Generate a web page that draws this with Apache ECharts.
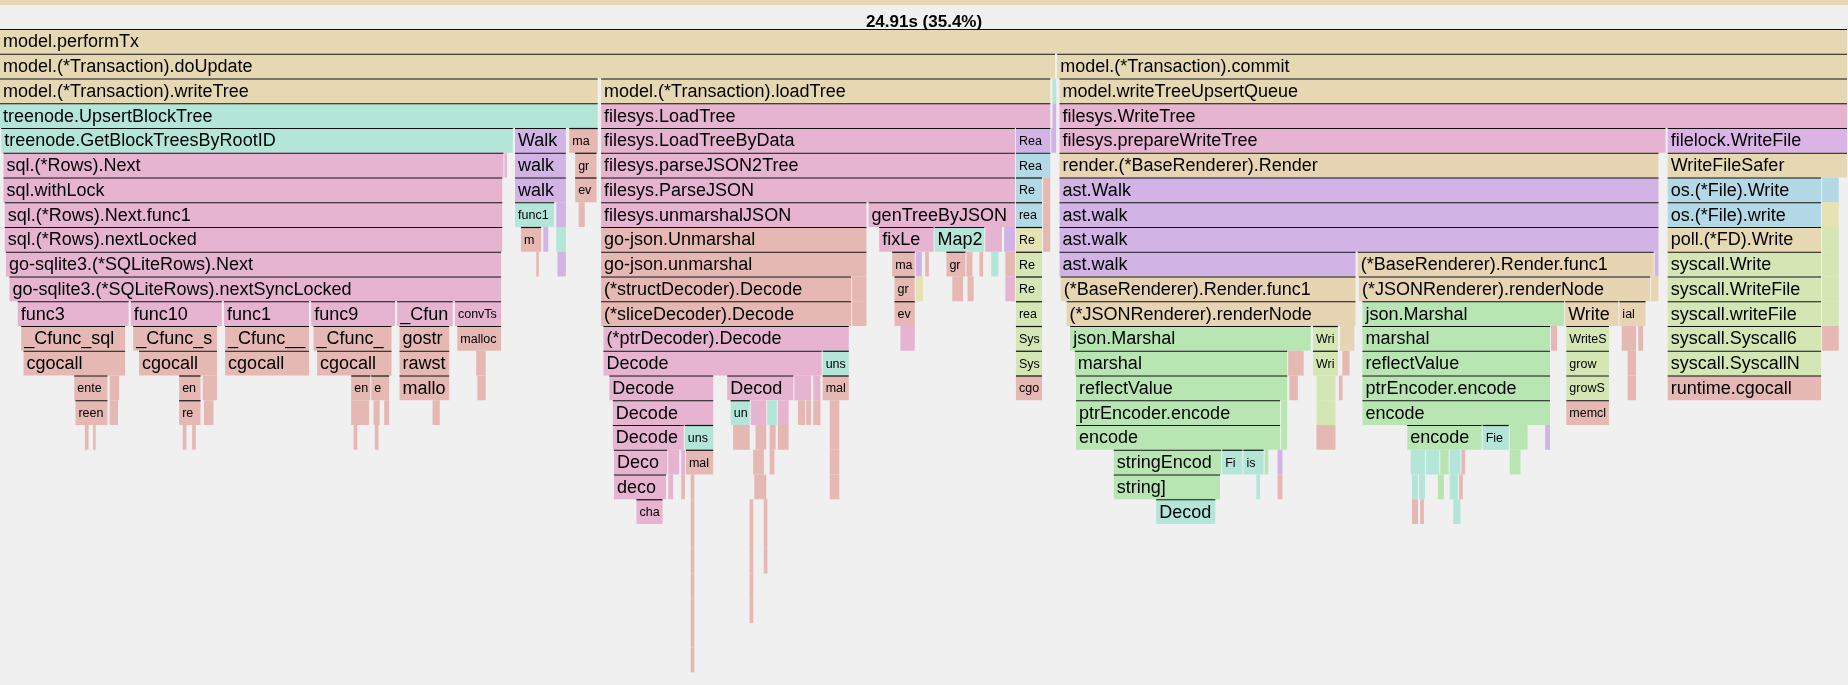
<!DOCTYPE html>
<html>
<head>
<meta charset="utf-8">
<script src="https://cdn.jsdelivr.net/npm/echarts@6/dist/echarts.min.js"></script>
<style>
  html, body { margin: 0; padding: 0; background: #f0f0f0; }
  #chart { width: 1848px; height: 685px; }
</style>
</head>
<body>
<div id="chart"></div>
<script>
// frames: [depth, start, end, kind, name]; x in sample units (total 1568)
const TOTAL = 1568;
const headerText = '24.91s (35.4%)';

const rootFrames = [
  [0, 0, 1568, 'B', 'model.performTx'],
  [1, 0, 896, 'B', 'model.(*Transaction).doUpdate'],
  [1, 897, 1568, 'B', 'model.(*Transaction).commit'],
  [2, 0, 508, 'B', 'model.(*Transaction).writeTree'],
  [2, 510, 892, 'B', 'model.(*Transaction).loadTree'],
  [2, 893, 897, 'T', ''],
  [2, 899, 1568, 'B', 'model.writeTreeUpsertQueue'],
  [3, 0, 508, 'T', 'treenode.UpsertBlockTree'],
  [3, 510, 892, 'P', 'filesys.LoadTree'],
  [3, 893, 897, 'U', ''],
  [3, 899, 1568, 'P', 'filesys.WriteTree']
];

const leftFrames = [
  [4, 1, 436, 'T', 'treenode.GetBlockTreesByRootID'], [4, 437, 481, 'U', 'Walk'], [4, 483, 508, 'S', 'mapa'],
  [5, 3, 428, 'P', 'sql.(*Rows).Next'], [5, 428, 431, 'P', ''], [5, 437, 481, 'U', 'walk'], [5, 488, 507, 'S', 'gro'],
  [6, 3, 427, 'P', 'sql.withLock'], [6, 437, 481, 'U', 'walk'], [6, 488, 507, 'S', 'eva'],
  [7, 4, 427, 'P', 'sql.(*Rows).Next.func1'], [7, 437, 471, 'T', 'func1'], [7, 472, 481, 'U', ''], [7, 491, 497, 'S', ''],
  [8, 4, 427, 'P', 'sql.(*Rows).nextLocked'], [8, 442, 460, 'S', 'ma'], [8, 461, 466, 'U', ''], [8, 472, 481, 'T', ''],
  [9, 5, 426, 'P', 'go-sqlite3.(*SQLiteRows).Next'], [9, 455, 458, 'S', ''], [9, 473, 481, 'U', ''],
  [10, 8, 426, 'P', 'go-sqlite3.(*SQLiteRows).nextSyncLocked'],
  [11, 15, 110, 'P', 'func3'], [11, 111, 189, 'P', 'func10'], [11, 190, 263, 'P', 'func1'], [11, 264, 336, 'P', 'func9'],
  [11, 337, 385, 'P', '_Cfunc_CString'], [11, 386, 426, 'P', 'convTstring'],
  [12, 18, 107, 'S', '_Cfunc_sqlite3_column'], [12, 113, 185, 'S', '_Cfunc_sqlite3_step'], [12, 191, 263, 'S', '_Cfunc__sqlite3_step'],
  [12, 266, 333, 'S', '_Cfunc_sqlite3_column'], [12, 339, 382, 'S', 'gostringnocopy'], [12, 388, 426, 'S', 'mallocgc'],
  [13, 20, 107, 'S', 'cgocall'], [13, 118, 185, 'S', 'cgocall'], [13, 191, 263, 'S', 'cgocall'], [13, 269, 333, 'S', 'cgocall'],
  [13, 339, 382, 'S', 'rawstring'], [13, 404, 413, 'S', ''],
  [14, 63, 92, 'S', 'entersyscall'], [14, 93, 102, 'S', ''], [14, 152, 171, 'S', 'entersyscall'], [14, 172, 185, 'S', ''],
  [14, 298, 315, 'S', 'entersyscall'], [14, 315, 331, 'S', 'exitsyscall'], [14, 339, 382, 'S', 'mallocgc'], [14, 405, 413, 'S', ''],
  [15, 64, 92, 'S', 'reentersyscall'], [15, 93, 101, 'S', ''], [15, 152, 171, 'S', 'reentersyscall'], [15, 173, 182, 'S', ''],
  [15, 298, 314, 'S', ''], [15, 317, 323, 'S', ''], [15, 326, 331, 'S', ''], [15, 367, 374, 'S', ''],
  [16, 72, 76, 'S', ''], [16, 79, 82, 'S', ''], [16, 155, 159, 'S', ''], [16, 163, 167, 'S', ''], [16, 300, 304, 'S', ''], [16, 318, 322, 'S', '']
];

const midFrames = [
  [4, 510, 862, 'P', 'filesys.LoadTreeByData'], [4, 862, 892, 'U', 'ReadFile'], [4, 892, 897, 'U', ''],
  [5, 510, 862, 'P', 'filesys.parseJSON2Tree'], [5, 862, 892, 'L', 'ReadFile'],
  [6, 510, 862, 'P', 'filesys.ParseJSON'], [6, 862, 885, 'L', 'Read'], [6, 885, 892, 'S', ''],
  [7, 510, 736, 'P', 'filesys.unmarshalJSON'], [7, 737, 862, 'P', 'genTreeByJSON'], [7, 862, 885, 'L', 'read'], [7, 885, 892, 'S', ''],
  [8, 510, 736, 'S', 'go-json.Unmarshal'], [8, 746, 793, 'P', 'fixLegacyData'], [8, 793, 836, 'T', 'Map2IAL'], [8, 836, 851, 'P', ''],
  [8, 852, 862, 'U', ''], [8, 862, 885, 'W', 'Read'], [8, 885, 892, 'S', ''],
  [9, 510, 736, 'S', 'go-json.unmarshal'], [9, 757, 777, 'S', 'mapassign'], [9, 777, 783, 'U', ''], [9, 785, 789, 'S', ''],
  [9, 803, 820, 'S', 'growslice'], [9, 820, 826, 'S', ''], [9, 831, 835, 'S', ''], [9, 841, 848, 'T', ''], [9, 853, 862, 'S', ''],
  [9, 862, 885, 'Y', 'Read'],
  [10, 510, 723, 'S', '(*structDecoder).Decode'], [10, 723, 736, 'S', ''], [10, 759, 777, 'S', 'growslice'], [10, 777, 784, 'W', ''],
  [10, 808, 818, 'S', ''], [10, 821, 827, 'S', ''], [10, 853, 862, 'P', ''], [10, 862, 885, 'Y', 'Read'],
  [11, 510, 723, 'S', '(*sliceDecoder).Decode'], [11, 723, 736, 'S', ''], [11, 759, 777, 'S', 'evacuate'], [11, 862, 885, 'Y', 'read'],
  [12, 512, 721, 'P', '(*ptrDecoder).Decode'], [12, 764, 777, 'P', ''], [12, 862, 885, 'Y', 'Syscall'],
  [13, 512, 698, 'P', 'Decode'], [13, 698, 721, 'T', 'unsafe_New'], [13, 862, 885, 'Y', 'SyscallN'],
  [14, 517, 606, 'P', 'Decode'], [14, 617, 674, 'P', 'Decode'], [14, 674, 689, 'P', ''], [14, 690, 697, 'P', ''],
  [14, 698, 721, 'S', 'mallocgc'], [14, 862, 885, 'S', 'cgocall'],
  [15, 520, 606, 'P', 'Decode'], [15, 620, 637, 'T', 'unsafe_New'], [15, 637, 651, 'P', ''], [15, 651, 660, 'T', ''], [15, 660, 670, 'P', ''],
  [15, 677, 684, 'S', ''], [15, 684, 689, 'S', ''], [15, 690, 697, 'S', ''], [15, 704, 713, 'S', ''],
  [16, 520, 581, 'P', 'Decode'], [16, 581, 606, 'T', 'unsafe_New'], [16, 622, 637, 'S', ''], [16, 641, 651, 'S', ''],
  [16, 653, 659, 'S', ''], [16, 660, 670, 'S', ''], [16, 704, 713, 'S', ''],
  [17, 521, 567, 'P', 'Decode'], [17, 567, 577, 'P', ''], [17, 578, 582, 'P', ''], [17, 582, 606, 'S', 'mallocgc'],
  [17, 639, 649, 'S', ''], [17, 653, 658, 'S', ''], [17, 704, 713, 'S', ''],
  [18, 521, 566, 'P', 'decode'], [18, 567, 572, 'P', ''], [18, 578, 582, 'S', ''], [18, 586, 590, 'S', ''], [18, 640, 651, 'S', ''], [18, 704, 713, 'S', ''],
  [19, 540, 563, 'P', 'chan'], [19, 586, 590, 'S', ''], [19, 636, 640, 'S', ''], [19, 648, 652, 'S', ''],
  [20, 586, 590, 'S', ''], [20, 636, 640, 'S', ''], [20, 648, 652, 'S', ''],
  [21, 586, 590, 'S', ''], [21, 636, 640, 'S', ''], [21, 648, 652, 'S', ''],
  [22, 586, 590, 'S', ''], [22, 636, 640, 'S', ''],
  [23, 586, 590, 'S', ''], [23, 636, 640, 'S', ''],
  [24, 586, 590, 'S', ''], [25, 586, 590, 'S', '']
];

const rightFrames = [
  [4, 899, 1414, 'P', 'filesys.prepareWriteTree'], [4, 1415, 1568, 'M', 'filelock.WriteFile'],
  [5, 899, 1408, 'O', 'render.(*BaseRenderer).Render'], [5, 1415, 1568, 'B', 'WriteFileSafer'],
  [6, 899, 1408, 'U', 'ast.Walk'], [6, 1415, 1546, 'L', 'os.(*File).Write'], [6, 1546, 1561, 'L', ''],
  [7, 899, 1408, 'U', 'ast.walk'], [7, 1415, 1546, 'L', 'os.(*File).write'], [7, 1546, 1561, 'W', ''],
  [8, 899, 1408, 'U', 'ast.walk'], [8, 1415, 1546, 'B', 'poll.(*FD).Write'], [8, 1546, 1561, 'Y', ''],
  [9, 899, 1151, 'U', 'ast.walk'], [9, 1152, 1404, 'O', '(*BaseRenderer).Render.func1'], [9, 1404, 1408, 'U', ''],
  [9, 1415, 1546, 'Y', 'syscall.Write'], [9, 1546, 1561, 'Y', ''],
  [10, 900, 1151, 'O', '(*BaseRenderer).Render.func1'], [10, 1153, 1401, 'O', '(*JSONRenderer).renderNode'], [10, 1401, 1408, 'O', ''],
  [10, 1415, 1546, 'Y', 'syscall.WriteFile'], [10, 1546, 1561, 'Y', ''],
  [11, 905, 1151, 'O', '(*JSONRenderer).renderNode'], [11, 1156, 1328, 'G', 'json.Marshal'], [11, 1328, 1374, 'O', 'WriteString'],
  [11, 1374, 1397, 'O', 'ial2Map'], [11, 1415, 1546, 'Y', 'syscall.writeFile'], [11, 1546, 1561, 'Y', ''],
  [12, 908, 1113, 'G', 'json.Marshal'], [12, 1114, 1136, 'Y', 'WriteString'], [12, 1137, 1150, 'O', ''], [12, 1156, 1316, 'G', 'marshal'],
  [12, 1316, 1322, 'S', ''], [12, 1329, 1366, 'Y', 'WriteString'], [12, 1376, 1389, 'S', ''], [12, 1390, 1395, 'S', ''],
  [12, 1415, 1546, 'Y', 'syscall.Syscall6'], [12, 1546, 1561, 'S', ''],
  [13, 912, 1093, 'G', 'marshal'], [13, 1093, 1107, 'S', ''], [13, 1114, 1136, 'Y', 'WriteString'], [13, 1139, 1146, 'S', ''],
  [13, 1156, 1316, 'G', 'reflectValue'], [13, 1329, 1366, 'Y', 'grow'], [13, 1381, 1389, 'S', ''], [13, 1415, 1546, 'Y', 'syscall.SyscallN'],
  [14, 913, 1093, 'G', 'reflectValue'], [14, 1094, 1102, 'S', ''], [14, 1117, 1134, 'Y', ''], [14, 1136, 1140, 'S', ''],
  [14, 1156, 1316, 'G', 'ptrEncoder.encode'], [14, 1329, 1366, 'Y', 'growSlice'], [14, 1381, 1389, 'S', ''], [14, 1415, 1546, 'S', 'runtime.cgocall'],
  [15, 913, 1087, 'G', 'ptrEncoder.encode'], [15, 1087, 1093, 'G', ''], [15, 1117, 1134, 'Y', ''],
  [15, 1156, 1316, 'G', 'encode'], [15, 1329, 1366, 'S', 'memclr'],
  [16, 913, 1087, 'G', 'encode'], [16, 1087, 1093, 'G', ''], [16, 1117, 1134, 'S', ''], [16, 1194, 1258, 'G', 'encode'],
  [16, 1258, 1281, 'T', 'FieldByIndex'], [16, 1281, 1297, 'G', ''], [16, 1311, 1316, 'U', ''],
  [17, 945, 1037, 'G', 'stringEncoder'], [17, 1037, 1055, 'T', 'FieldByIndex'], [17, 1055, 1073, 'T', 'isEmpty'], [17, 1073, 1077, 'G', ''],
  [17, 1084, 1089, 'U', ''], [17, 1197, 1210, 'T', ''], [17, 1210, 1222, 'T', ''], [17, 1222, 1230, 'G', ''],
  [17, 1230, 1240, 'T', ''], [17, 1240, 1244, 'S', ''], [17, 1281, 1291, 'G', ''],
  [18, 945, 1036, 'G', 'string]'], [18, 1066, 1070, 'T', ''], [18, 1084, 1089, 'S', ''], [18, 1198, 1204, 'T', ''],
  [18, 1204, 1210, 'T', ''], [18, 1220, 1226, 'G', ''], [18, 1230, 1238, 'T', ''], [18, 1238, 1242, 'S', ''],
  [19, 981, 1032, 'T', 'DecodeRuneInString'], [19, 1198, 1204, 'S', ''], [19, 1205, 1209, 'S', ''], [19, 1233, 1240, 'T', '']
];

const kindColors = {
  B: '#e6d8b3', O: '#e6d4b3', T: '#b3e6d9', P: '#e6b3d1', S: '#e6b8b3', U: '#d1b3e6',
  L: '#b3d8e6', G: '#b8e6b3', Y: '#d3e6b3', W: '#e6e2b3', M: '#dbb3e6'
};

const frames = [].concat(rootFrames, leftFrames, midFrames, rightFrames);

const chart = echarts.init(document.getElementById('chart'), null, { renderer: 'canvas' });

function renderFrame(params, api) {
  const depth = api.value(0), start = api.value(1), end = api.value(2);
  const name = frames[params.dataIndex][4];
  const kind = frames[params.dataIndex][3];
  const p0 = api.coord([start, depth]);
  const p1 = api.coord([end, depth + 1]);
  const x = p0[0], y = p0[1];
  const w = Math.max(1, p1[0] - p0[0] - 1);
  const h = p1[1] - p0[1];
  const children = [{
    type: 'rect',
    shape: { x: x, y: y, width: w, height: h },
    style: { fill: kindColors[kind] }
  }];
  if (name) {
    children.push({
      type: 'line',
      shape: { x1: x, y1: y + 0.5, x2: x + w, y2: y + 0.5 },
      style: { stroke: '#111', lineWidth: 1.2 }
    });
    const big = w > 48;
    children.push({
      type: 'text',
      style: {
        x: x + 3, y: y + h / 2 + 1,
        text: name,
        fill: '#000',
        font: (big ? 18 : 12.5) + 'px "Liberation Sans", Arial, sans-serif',
        verticalAlign: 'middle',
        width: Math.max(0, w - 4),
        overflow: 'truncate',
        ellipsis: ''
      }
    });
  }
  return { type: 'group', children: children };
}

chart.setOption({
  animation: false,
  backgroundColor: '#f0f0f0',
  title: {
    text: headerText, left: 'center', top: 9,
    textStyle: { fontSize: 17, fontWeight: 'bold', color: '#000', fontFamily: 'Liberation Sans' }
  },
  graphic: [{ type: 'rect', shape: { x: 0, y: 0, width: 1848, height: 5 }, style: { fill: '#e6d8b3' } }],
  grid: { left: 0, right: 0, top: 29, height: 24.75 * 26 },
  xAxis: { type: 'value', min: 0, max: TOTAL, show: false },
  yAxis: { type: 'value', min: 0, max: 26, inverse: true, show: false },
  series: [{
    type: 'custom',
    renderItem: renderFrame,
    encode: { x: [1, 2], y: 0 },
    data: frames.map(f => [f[0], f[1], f[2]])
  }]
});
</script>
</body>
</html>
